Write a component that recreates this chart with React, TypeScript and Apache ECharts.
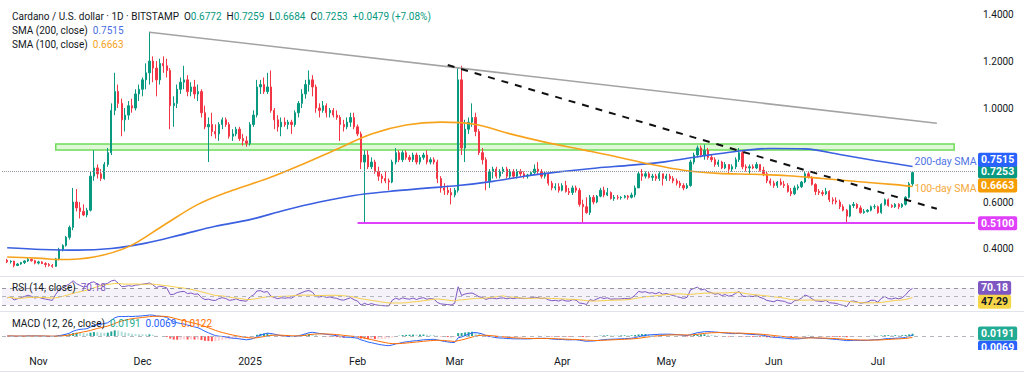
import React, { useEffect, useRef } from "react";
import * as echarts from "echarts";

// ---------- data ----------
const START_DATE = "2024-10-23";
const AXIS_END_DATE = "2025-07-29";

type OHLC = [number, number, number, number]; // open, high, low, close

const oct2024: OHLC[] = [
  [0.352, 0.358, 0.34, 0.345], [0.345, 0.352, 0.338, 0.348], [0.348, 0.35, 0.322, 0.33],
  [0.33, 0.34, 0.327, 0.336], [0.336, 0.345, 0.333, 0.342], [0.342, 0.352, 0.336, 0.349],
  [0.349, 0.362, 0.345, 0.356], [0.356, 0.36, 0.346, 0.35], [0.35, 0.354, 0.335, 0.34],
];
const nov2024: OHLC[] = [
  [0.34, 0.35, 0.334, 0.345], [0.345, 0.348, 0.336, 0.338], [0.338, 0.344, 0.322, 0.334],
  [0.334, 0.34, 0.325, 0.33], [0.33, 0.336, 0.32, 0.326], [0.326, 0.362, 0.324, 0.358],
  [0.358, 0.405, 0.352, 0.398], [0.398, 0.42, 0.39, 0.415], [0.415, 0.455, 0.41, 0.45],
  [0.45, 0.5, 0.44, 0.492], [0.492, 0.66, 0.48, 0.6], [0.6, 0.655, 0.56, 0.575],
  [0.575, 0.6, 0.53, 0.56], [0.56, 0.59, 0.54, 0.545], [0.545, 0.575, 0.535, 0.565],
  [0.565, 0.73, 0.56, 0.71], [0.71, 0.82, 0.69, 0.745], [0.745, 0.76, 0.7, 0.72],
  [0.72, 0.74, 0.69, 0.7], [0.7, 0.77, 0.695, 0.76], [0.76, 0.83, 0.75, 0.81],
  [0.81, 1.02, 0.8, 0.99], [0.99, 1.15, 0.97, 1.07], [1.07, 1.1, 1.0, 1.02],
  [1.02, 1.04, 0.88, 0.95], [0.95, 1.0, 0.9, 0.97], [0.97, 1.03, 0.95, 1.01],
  [1.01, 1.04, 0.98, 1.0], [1.0, 1.08, 0.99, 1.06], [1.06, 1.1, 1.03, 1.08],
];
const dec2024: OHLC[] = [
  [1.08, 1.13, 1.05, 1.12], [1.12, 1.19, 1.08, 1.15], [1.15, 1.325, 1.1, 1.2],
  [1.2, 1.22, 1.11, 1.17], [1.17, 1.2, 1.05, 1.12], [1.12, 1.21, 1.1, 1.19],
  [1.19, 1.22, 1.15, 1.18], [1.18, 1.21, 1.13, 1.16], [1.16, 1.17, 0.91, 1.01],
  [1.01, 1.05, 0.92, 1.02], [1.02, 1.1, 1.0, 1.08], [1.08, 1.13, 1.06, 1.11],
  [1.11, 1.18, 1.08, 1.12], [1.12, 1.14, 1.05, 1.07], [1.07, 1.11, 1.05, 1.09],
  [1.09, 1.12, 1.04, 1.06], [1.06, 1.1, 1.03, 1.07], [1.07, 1.08, 0.96, 0.98],
  [0.98, 1.01, 0.91, 0.92], [0.92, 0.96, 0.77, 0.93], [0.93, 0.98, 0.88, 0.9],
  [0.9, 0.93, 0.87, 0.89], [0.89, 0.94, 0.86, 0.93], [0.93, 0.96, 0.91, 0.95],
  [0.95, 0.96, 0.92, 0.93], [0.93, 0.94, 0.87, 0.88], [0.88, 0.91, 0.86, 0.89],
  [0.89, 0.92, 0.88, 0.91], [0.91, 0.92, 0.86, 0.87], [0.87, 0.89, 0.84, 0.86],
  [0.86, 0.88, 0.835, 0.85],
];
const jan2025: OHLC[] = [
  [0.85, 0.94, 0.84, 0.93], [0.93, 0.99, 0.92, 0.97], [0.97, 1.12, 0.96, 1.09],
  [1.09, 1.12, 1.06, 1.1], [1.1, 1.13, 1.06, 1.07], [1.07, 1.15, 1.06, 1.09],
  [1.09, 1.16, 0.98, 0.99], [0.99, 1.0, 0.91, 0.95], [0.95, 0.97, 0.9, 0.92],
  [0.92, 0.96, 0.88, 0.94], [0.94, 0.96, 0.92, 0.93], [0.93, 0.95, 0.91, 0.94],
  [0.94, 0.95, 0.89, 0.93], [0.93, 0.99, 0.92, 0.98], [0.98, 1.03, 0.96, 1.02],
  [1.02, 1.08, 1.0, 1.06], [1.06, 1.12, 1.04, 1.1], [1.1, 1.16, 1.07, 1.12],
  [1.12, 1.14, 1.05, 1.09], [1.09, 1.1, 0.98, 1.0], [1.0, 1.02, 0.96, 0.99],
  [0.99, 1.03, 0.98, 1.01], [1.01, 1.02, 0.96, 0.98], [0.98, 1.0, 0.96, 0.99],
  [0.99, 1.0, 0.96, 0.97], [0.97, 0.99, 0.95, 0.96], [0.96, 0.97, 0.86, 0.93],
  [0.93, 0.95, 0.9, 0.92], [0.92, 0.96, 0.91, 0.94], [0.94, 0.98, 0.92, 0.96],
  [0.96, 0.98, 0.91, 0.92],
];
const feb2025: OHLC[] = [
  [0.92, 0.93, 0.88, 0.89], [0.89, 0.9, 0.74, 0.77], [0.77, 0.82, 0.51, 0.8],
  [0.8, 0.82, 0.74, 0.75], [0.75, 0.79, 0.74, 0.77], [0.77, 0.78, 0.72, 0.73],
  [0.73, 0.75, 0.69, 0.71], [0.71, 0.72, 0.68, 0.7], [0.7, 0.73, 0.68, 0.69],
  [0.69, 0.7, 0.65, 0.685], [0.685, 0.78, 0.68, 0.77], [0.77, 0.83, 0.76, 0.81],
  [0.81, 0.82, 0.77, 0.78], [0.78, 0.82, 0.77, 0.81], [0.81, 0.82, 0.78, 0.79],
  [0.79, 0.8, 0.77, 0.78], [0.78, 0.81, 0.77, 0.8], [0.8, 0.81, 0.76, 0.77],
  [0.77, 0.8, 0.76, 0.79], [0.79, 0.81, 0.78, 0.8], [0.8, 0.82, 0.76, 0.77],
  [0.77, 0.79, 0.76, 0.78], [0.78, 0.79, 0.76, 0.77], [0.77, 0.78, 0.68, 0.7],
  [0.7, 0.71, 0.64, 0.66], [0.66, 0.68, 0.63, 0.65], [0.65, 0.67, 0.63, 0.64],
  [0.64, 0.66, 0.59, 0.63],
];
const mar2025: OHLC[] = [
  [0.63, 0.66, 0.62, 0.65], [0.65, 1.17, 0.64, 1.12], [1.12, 1.18, 0.8, 0.83],
  [0.83, 0.95, 0.77, 0.91], [0.91, 0.96, 0.89, 0.94], [0.94, 1.02, 0.92, 0.96],
  [0.96, 0.98, 0.88, 0.9], [0.9, 0.91, 0.8, 0.81], [0.81, 0.83, 0.76, 0.78],
  [0.78, 0.79, 0.65, 0.69], [0.69, 0.74, 0.66, 0.73], [0.73, 0.75, 0.7, 0.74],
  [0.74, 0.75, 0.7, 0.71], [0.71, 0.74, 0.7, 0.73], [0.73, 0.75, 0.72, 0.74],
  [0.74, 0.75, 0.7, 0.71], [0.71, 0.74, 0.7, 0.73], [0.73, 0.74, 0.7, 0.71],
  [0.71, 0.74, 0.7, 0.73], [0.73, 0.74, 0.71, 0.72], [0.72, 0.73, 0.7, 0.71],
  [0.71, 0.72, 0.7, 0.715], [0.715, 0.73, 0.71, 0.725], [0.725, 0.76, 0.72, 0.74],
  [0.74, 0.77, 0.72, 0.73], [0.73, 0.74, 0.7, 0.71], [0.71, 0.73, 0.7, 0.72],
  [0.72, 0.72, 0.67, 0.68], [0.68, 0.69, 0.65, 0.66], [0.66, 0.68, 0.65, 0.665],
  [0.665, 0.68, 0.64, 0.65],
];
const apr2025: OHLC[] = [
  [0.65, 0.68, 0.645, 0.67], [0.67, 0.69, 0.64, 0.645], [0.645, 0.66, 0.63, 0.64],
  [0.64, 0.67, 0.63, 0.66], [0.66, 0.67, 0.64, 0.65], [0.65, 0.66, 0.58, 0.59],
  [0.59, 0.61, 0.51, 0.58], [0.58, 0.62, 0.55, 0.555], [0.555, 0.63, 0.545, 0.62],
  [0.62, 0.63, 0.59, 0.6], [0.6, 0.63, 0.595, 0.625], [0.625, 0.66, 0.62, 0.65],
  [0.65, 0.665, 0.62, 0.63], [0.63, 0.66, 0.625, 0.64], [0.64, 0.645, 0.61, 0.615],
  [0.615, 0.63, 0.605, 0.62], [0.62, 0.63, 0.61, 0.618], [0.618, 0.625, 0.61, 0.62],
  [0.62, 0.63, 0.615, 0.625], [0.625, 0.63, 0.61, 0.62], [0.62, 0.64, 0.615, 0.63],
  [0.63, 0.67, 0.62, 0.66], [0.66, 0.73, 0.66, 0.72], [0.72, 0.74, 0.69, 0.71],
  [0.71, 0.73, 0.7, 0.72], [0.72, 0.73, 0.7, 0.705], [0.705, 0.72, 0.69, 0.71],
  [0.71, 0.72, 0.69, 0.7], [0.7, 0.73, 0.69, 0.72], [0.72, 0.72, 0.67, 0.7],
];
const may2025: OHLC[] = [
  [0.7, 0.72, 0.69, 0.71], [0.71, 0.72, 0.69, 0.7], [0.7, 0.71, 0.68, 0.69],
  [0.69, 0.7, 0.67, 0.68], [0.68, 0.69, 0.66, 0.67], [0.67, 0.68, 0.65, 0.66],
  [0.66, 0.68, 0.655, 0.67], [0.67, 0.78, 0.665, 0.77], [0.77, 0.81, 0.76, 0.8],
  [0.8, 0.84, 0.79, 0.83], [0.83, 0.84, 0.79, 0.8], [0.8, 0.845, 0.78, 0.82],
  [0.82, 0.83, 0.78, 0.79], [0.79, 0.8, 0.77, 0.78], [0.78, 0.79, 0.75, 0.76],
  [0.76, 0.78, 0.75, 0.77], [0.77, 0.775, 0.74, 0.745], [0.745, 0.77, 0.74, 0.76],
  [0.76, 0.76, 0.72, 0.74], [0.74, 0.76, 0.73, 0.75], [0.75, 0.79, 0.74, 0.78],
  [0.78, 0.83, 0.77, 0.81], [0.81, 0.82, 0.74, 0.75], [0.75, 0.76, 0.73, 0.745],
  [0.745, 0.76, 0.72, 0.75], [0.75, 0.76, 0.74, 0.745], [0.745, 0.77, 0.74, 0.76],
  [0.76, 0.76, 0.73, 0.735], [0.735, 0.75, 0.71, 0.72], [0.72, 0.73, 0.68, 0.69],
  [0.69, 0.7, 0.67, 0.68],
];
const jun2025: OHLC[] = [
  [0.68, 0.69, 0.66, 0.67], [0.67, 0.69, 0.66, 0.685], [0.685, 0.7, 0.67, 0.675],
  [0.675, 0.69, 0.66, 0.67], [0.67, 0.68, 0.64, 0.645], [0.645, 0.66, 0.625, 0.635],
  [0.635, 0.67, 0.63, 0.66], [0.66, 0.675, 0.65, 0.665], [0.665, 0.69, 0.66, 0.685],
  [0.685, 0.73, 0.68, 0.72], [0.72, 0.73, 0.7, 0.705], [0.705, 0.71, 0.67, 0.675],
  [0.675, 0.68, 0.63, 0.645], [0.645, 0.655, 0.63, 0.64], [0.64, 0.65, 0.625, 0.635],
  [0.635, 0.66, 0.63, 0.645], [0.645, 0.65, 0.6, 0.61], [0.61, 0.62, 0.59, 0.605],
  [0.605, 0.62, 0.59, 0.6], [0.6, 0.61, 0.57, 0.58], [0.58, 0.59, 0.56, 0.565],
  [0.565, 0.57, 0.51, 0.54], [0.54, 0.59, 0.535, 0.585], [0.585, 0.6, 0.575, 0.59],
  [0.59, 0.595, 0.57, 0.575], [0.575, 0.585, 0.55, 0.555], [0.555, 0.57, 0.55, 0.56],
  [0.56, 0.57, 0.555, 0.565], [0.565, 0.585, 0.56, 0.58], [0.58, 0.59, 0.57, 0.58],
];
const jul2025: OHLC[] = [
  [0.58, 0.585, 0.55, 0.555], [0.555, 0.595, 0.55, 0.59], [0.59, 0.615, 0.585, 0.61],
  [0.61, 0.615, 0.58, 0.585], [0.585, 0.59, 0.575, 0.58], [0.58, 0.595, 0.575, 0.59],
  [0.59, 0.595, 0.57, 0.58], [0.58, 0.595, 0.575, 0.59], [0.59, 0.625, 0.585, 0.62],
  [0.62, 0.685, 0.615, 0.6774], [0.6772, 0.7259, 0.6684, 0.7253],
];

const sma200Samples: [string, number][] = [
  ["2024-10-23", 0.405], ["2024-11-02", 0.398], ["2024-11-12", 0.395], ["2024-11-22", 0.402],
  ["2024-12-02", 0.425], ["2024-12-12", 0.46], ["2024-12-22", 0.497], ["2025-01-01", 0.525],
  ["2025-01-11", 0.565], ["2025-01-21", 0.6], ["2025-01-31", 0.628], ["2025-02-10", 0.645],
  ["2025-02-20", 0.658], ["2025-03-02", 0.67], ["2025-03-12", 0.688], ["2025-03-22", 0.712],
  ["2025-04-01", 0.73], ["2025-04-11", 0.745], ["2025-04-21", 0.757], ["2025-05-01", 0.772],
  ["2025-05-11", 0.795], ["2025-05-21", 0.815], ["2025-05-31", 0.828], ["2025-06-10", 0.826],
  ["2025-06-20", 0.802], ["2025-06-30", 0.777], ["2025-07-11", 0.7515],
];
const sma100Samples: [string, number][] = [
  ["2024-10-23", 0.366], ["2024-11-02", 0.36], ["2024-11-07", 0.355], ["2024-11-17", 0.366],
  ["2024-11-27", 0.41], ["2024-12-07", 0.5], ["2024-12-17", 0.59], ["2024-12-27", 0.65],
  ["2025-01-06", 0.7], ["2025-01-16", 0.76], ["2025-01-26", 0.825], ["2025-02-05", 0.89],
  ["2025-02-15", 0.928], ["2025-02-25", 0.94], ["2025-03-07", 0.93], ["2025-03-17", 0.89],
  ["2025-03-27", 0.855], ["2025-04-06", 0.825], ["2025-04-16", 0.795], ["2025-04-26", 0.762],
  ["2025-05-06", 0.735], ["2025-05-16", 0.722], ["2025-05-26", 0.718], ["2025-06-05", 0.712],
  ["2025-06-15", 0.7], ["2025-06-25", 0.687], ["2025-07-05", 0.675], ["2025-07-11", 0.6663],
];

const monthTicks: [string, string][] = [
  ["2024-11-01", "Nov"], ["2024-12-01", "Dec"], ["2025-01-01", "2025"], ["2025-02-01", "Feb"],
  ["2025-03-01", "Mar"], ["2025-04-01", "Apr"], ["2025-05-01", "May"], ["2025-06-01", "Jun"],
  ["2025-07-01", "Jul"],
];

const greyTrendline: [string, number][] = [["2024-12-03", 1.323], ["2025-07-18", 0.935]];
const dashedTrendline: [string, number][] = [["2025-02-27", 1.183], ["2025-07-18", 0.571]];
const greenZone = { from: "2024-11-06", to: "2025-07-23", top: 0.847, bottom: 0.821 };
const supportLine = { from: "2025-02-01", value: 0.51 };

const legendOHLC = { o: "0.6772", h: "0.7259", l: "0.6684", c: "0.7253", chg: "+0.0479 (+7.08%)" };
const lastClose = 0.7253;
const lastSma200 = 0.7515;
const lastSma100 = 0.6663;
const rsiLast = 70.18;
const rsiMaLast = 47.29;
const macdHistLast = 0.0191;
const macdLast = 0.0069;
const signalLast = 0.0122;
const hiddenPriceTicks = [0.8];
const RSI_SEED = { gain: 0.0045, loss: 0.005 };

// ---------- styling ----------
const FONT = "Roboto, 'Noto Sans', Arial, sans-serif";
const UP = "#089981";
const DOWN = "#f23645";
const TEXT = "#131722";
const BLUE = "#2962ff";
const ORANGE = "#f7a21b";
const PURPLE = "#7e57c2";
const MAGENTA = "#e040fb";
const HIDDEN_LINE = { color: "rgba(0,0,0,0)", width: 1, type: "solid" };

// ---------- helpers ----------
const parseDay = (d: string) => {
  const [y, m, dd] = d.split("-").map(Number);
  return Date.UTC(y, m - 1, dd);
};
const T0 = parseDay(START_DATE);
const dayIndex = (d: string) => Math.round((parseDay(d) - T0) / 86400000);

const candles: OHLC[] = ([] as OHLC[]).concat(
  oct2024, nov2024, dec2024, jan2025, feb2025, mar2025, apr2025, may2025, jun2025, jul2025
);
const closes = candles.map((c) => c[3]);
const candleData = candles.map((c, i) => [i, c[0], c[3], c[2], c[1]]);
const sma200Data = sma200Samples.map(([d, v]) => [dayIndex(d), v]);
const sma100Data = sma100Samples.map(([d, v]) => [dayIndex(d), v]);

// RSI (14, Wilder)
const rsi: number[] = [];
{
  let ag = RSI_SEED.gain;
  let al = RSI_SEED.loss;
  for (let i = 0; i < closes.length; i++) {
    if (i > 0) {
      const ch = closes[i] - closes[i - 1];
      ag = (ag * 13 + Math.max(ch, 0)) / 14;
      al = (al * 13 + Math.max(-ch, 0)) / 14;
    }
    rsi.push(al === 0 ? 100 : 100 - 100 / (1 + ag / al));
  }
}
const rsiMa = rsi.map((_, i) => {
  const s = Math.max(0, i - 13);
  const part = rsi.slice(s, i + 1);
  return part.reduce((a, b) => a + b, 0) / part.length;
});

// MACD (12, 26, 9)
const macd: number[] = [];
const signal: number[] = [];
{
  let e12 = closes[0];
  let e26 = closes[0];
  let sig = 0;
  for (let i = 0; i < closes.length; i++) {
    if (i > 0) {
      e12 = closes[i] * (2 / 13) + e12 * (1 - 2 / 13);
      e26 = closes[i] * (2 / 27) + e26 * (1 - 2 / 27);
    }
    const m = e12 - e26;
    sig = i === 0 ? m : m * 0.2 + sig * 0.8;
    macd.push(m);
    signal.push(sig);
  }
}
const hist = macd.map((m, i) => m - signal[i]);
const histData = hist.map((h, i) => {
  const prev = i > 0 ? hist[i - 1] : 0;
  const color = h >= 0 ? (h >= prev ? "#26a69a" : "#b2dfdb") : h < prev ? "#ff5252" : "#ffcdd2";
  return { value: [i, h], itemStyle: { color } };
});
// MACD pane scale: the peak of the MACD line sits 3px under the pane top, zero line 24px under it
const macdPeak = Math.max(...macd);
const MACD_MAX = (macdPeak * 24) / 21;
const MACD_MIN = -(macdPeak * 13) / 21;

const X_MIN = -1.5;
const X_MAX = dayIndex(AXIS_END_DATE);
const tickLabelMap: Record<number, string> = {};
monthTicks.forEach(([d, l]) => (tickLabelMap[dayIndex(d)] = l));

const box = (bg: string, fg = "#ffffff", offsetY = 0) => ({
  show: true,
  position: "end",
  distance: 3,
  color: fg,
  backgroundColor: bg,
  padding: [2, 3, 1, 3],
  fontSize: 10.5,
  fontWeight: "bold",
  fontFamily: FONT,
  borderRadius: 2,
  offset: [0, offsetY],
});

const PLOT_LEFT = 2;
const PLOT_RIGHT = 49;

function buildOption(): any {
  const xBase = (gridIndex: number) => ({
    type: "value",
    gridIndex,
    min: X_MIN,
    max: X_MAX,
    axisLine: { show: false },
    axisTick: { show: false },
    splitLine: { show: false },
    axisLabel: { show: false },
  });
  const txt = (s: any) => ({ fontFamily: FONT, fontSize: 10, fill: TEXT, ...s });
  return {
    animation: false,
    backgroundColor: "#ffffff",
    textStyle: { fontFamily: FONT },
    grid: [
      { left: PLOT_LEFT, right: PLOT_RIGHT, top: 0, height: 276 },
      { left: PLOT_LEFT, right: PLOT_RIGHT, top: 277, height: 34 },
      { left: PLOT_LEFT, right: PLOT_RIGHT, top: 312, height: 37 },
    ],
    xAxis: [
      xBase(0),
      xBase(1),
      {
        ...xBase(2),
        axisLabel: {
          show: true,
          customValues: Object.keys(tickLabelMap).map(Number),
          formatter: (v: number) => tickLabelMap[Math.round(v)] ?? "",
          color: TEXT,
          fontSize: 10.5,
          fontFamily: FONT,
          margin: 7,
        },
      },
    ],
    yAxis: [
      {
        type: "value",
        gridIndex: 0,
        position: "right",
        min: 0.285,
        max: 1.46,
        splitNumber: 6,
        axisLine: { show: false },
        axisTick: { show: false },
        splitLine: { show: false },
        axisLabel: {
          color: TEXT,
          fontSize: 10,
          fontFamily: FONT,
          margin: 8,
          showMinLabel: false,
          showMaxLabel: false,
          formatter: (v: number) =>
            hiddenPriceTicks.some((h) => Math.abs(h - v) < 1e-6) ? "" : v.toFixed(4),
        },
      },
      {
        type: "value", gridIndex: 1, position: "right", min: 16, max: 96,
        axisLine: { show: false }, axisTick: { show: false }, splitLine: { show: false },
        axisLabel: { show: false },
      },
      {
        type: "value", gridIndex: 2, position: "right", min: MACD_MIN, max: MACD_MAX,
        axisLine: { show: false }, axisTick: { show: false }, splitLine: { show: false },
        axisLabel: { show: false },
      },
    ],
    series: [
      {
        type: "candlestick",
        name: "ADA/USD",
        xAxisIndex: 0,
        yAxisIndex: 0,
        data: candleData,
        barWidth: 1.8,
        itemStyle: { color: UP, color0: DOWN, borderColor: UP, borderColor0: DOWN, borderWidth: 1 },
        markArea: {
          silent: true,
          data: [
            [
              {
                coord: [dayIndex(greenZone.from), greenZone.top],
                itemStyle: { color: "rgba(140, 230, 110, 0.28)", borderColor: "#6fdc5a", borderWidth: 1.5 },
              },
              { coord: [dayIndex(greenZone.to), greenZone.bottom] },
            ],
          ],
        },
        markLine: {
          silent: true,
          symbol: ["none", "none"],
          data: [
            {
              yAxis: lastClose,
              lineStyle: { color: "#9598a1", type: "dotted", width: 1 },
              label: { ...box(UP), formatter: lastClose.toFixed(4) },
            },
            [
              {
                coord: [dayIndex(greyTrendline[0][0]), greyTrendline[0][1]],
                lineStyle: { color: "#a3a3a3", width: 1.6, type: "solid" },
                label: { show: false },
              },
              { coord: [dayIndex(greyTrendline[1][0]), greyTrendline[1][1]] },
            ],
            [
              {
                coord: [dayIndex(dashedTrendline[0][0]), dashedTrendline[0][1]],
                lineStyle: { color: "#111111", width: 2, type: [7, 7] },
                label: { show: false },
              },
              { coord: [dayIndex(dashedTrendline[1][0]), dashedTrendline[1][1]] },
            ],
            [
              {
                coord: [dayIndex(supportLine.from), supportLine.value],
                lineStyle: { color: MAGENTA, width: 2, type: "solid" },
                label: { ...box(MAGENTA), formatter: supportLine.value.toFixed(4) },
              },
              { coord: [X_MAX, supportLine.value] },
            ],
          ],
        },
        z: 3,
      },
      {
        type: "line",
        name: "SMA 200",
        xAxisIndex: 0,
        yAxisIndex: 0,
        data: sma200Data,
        smooth: 0.35,
        showSymbol: false,
        lineStyle: { color: "#3a5fe0", width: 1.6 },
        endLabel: {
          show: true, formatter: "200-day SMA", color: "#4f74e6", fontSize: 10.5,
          fontFamily: FONT, distance: 2, offset: [0, -5],
        },
        markLine: {
          silent: true,
          symbol: ["none", "none"],
          data: [
            { yAxis: lastSma200, lineStyle: HIDDEN_LINE, label: { ...box(BLUE, "#fff", -7), formatter: lastSma200.toFixed(4) } },
          ],
        },
        z: 4,
      },
      {
        type: "line",
        name: "SMA 100",
        xAxisIndex: 0,
        yAxisIndex: 0,
        data: sma100Data,
        smooth: 0.35,
        showSymbol: false,
        lineStyle: { color: ORANGE, width: 1.6 },
        endLabel: {
          show: true, formatter: "100-day SMA", color: "#f5a83a", fontSize: 10.5,
          fontFamily: FONT, distance: 2, offset: [0, 2],
        },
        markLine: {
          silent: true,
          symbol: ["none", "none"],
          data: [
            { yAxis: lastSma100, lineStyle: HIDDEN_LINE, label: { ...box("#f59c00"), formatter: lastSma100.toFixed(4) } },
          ],
        },
        z: 4,
      },
      {
        type: "line",
        name: "RSI",
        xAxisIndex: 1,
        yAxisIndex: 1,
        data: rsi.map((v, i) => [i, v]),
        showSymbol: false,
        lineStyle: { color: PURPLE, width: 1 },
        markArea: {
          silent: true,
          data: [[{ yAxis: 70, itemStyle: { color: "rgba(126, 87, 194, 0.08)" } }, { yAxis: 30 }]],
        },
        markLine: {
          silent: true,
          symbol: ["none", "none"],
          data: [
            { yAxis: 70, lineStyle: { color: "#9598a1", type: [4, 4], width: 1 }, label: { show: false } },
            { yAxis: 50, lineStyle: { color: "#b2b5be", type: [4, 4], width: 1 }, label: { show: false } },
            { yAxis: 30, lineStyle: { color: "#9598a1", type: [4, 4], width: 1 }, label: { show: false } },
            { yAxis: rsiLast, lineStyle: HIDDEN_LINE, label: { ...box(PURPLE), formatter: rsiLast.toFixed(2) } },
          ],
        },
      },
      {
        type: "line",
        name: "RSI MA",
        xAxisIndex: 1,
        yAxisIndex: 1,
        data: rsiMa.map((v, i) => [i, v]),
        showSymbol: false,
        lineStyle: { color: "#f5cf4a", width: 1 },
        markLine: {
          silent: true,
          symbol: ["none", "none"],
          data: [
            { yAxis: rsiMaLast, lineStyle: HIDDEN_LINE, label: { ...box("#f7d548", TEXT, 4), formatter: rsiMaLast.toFixed(2) } },
          ],
        },
      },
      {
        type: "bar",
        name: "Histogram",
        xAxisIndex: 2,
        yAxisIndex: 2,
        data: histData,
        barWidth: 2,
        markLine: {
          silent: true,
          symbol: ["none", "none"],
          data: [
            { yAxis: 0, lineStyle: { color: "#b2b5be", type: [4, 4], width: 1 }, label: { show: false } },
            { yAxis: macdHistLast, lineStyle: HIDDEN_LINE, label: { ...box("#22ab94"), formatter: macdHistLast.toFixed(4) } },
          ],
        },
      },
      {
        type: "line",
        name: "MACD",
        xAxisIndex: 2,
        yAxisIndex: 2,
        data: macd.map((v, i) => [i, v]),
        showSymbol: false,
        lineStyle: { color: BLUE, width: 1 },
        markLine: {
          silent: true,
          symbol: ["none", "none"],
          data: [
            { yAxis: macdLast, lineStyle: HIDDEN_LINE, label: { ...box(BLUE, "#fff", 13), formatter: macdLast.toFixed(4) } },
          ],
        },
      },
      {
        type: "line",
        name: "Signal",
        xAxisIndex: 2,
        yAxisIndex: 2,
        data: signal.map((v, i) => [i, v]),
        showSymbol: false,
        lineStyle: { color: "#ff6d00", width: 1 },
      },
    ],
    graphic: [
      {
        type: "text",
        x: 12,
        y: 16,
        style: txt({
          verticalAlign: "middle",
          text:
            `Cardano / U.S. dollar · 1D · BITSTAMP  O{g|${legendOHLC.o}}  H{g|${legendOHLC.h}}  L{g|${legendOHLC.l}}  C{g|${legendOHLC.c}}  {g|${legendOHLC.chg}}`,
          rich: { g: { fill: UP, fontFamily: FONT, fontSize: 10 } },
        }),
        z: 50,
      },
      {
        type: "text",
        x: 12,
        y: 30,
        style: txt({
          verticalAlign: "middle",
          text: `SMA (200, close)  {b|${lastSma200.toFixed(4)}}`,
          rich: { b: { fill: "#4a6fe3", fontFamily: FONT, fontSize: 10 } },
        }),
        z: 50,
      },
      {
        type: "text",
        x: 12,
        y: 44,
        style: txt({
          verticalAlign: "middle",
          text: `SMA (100, close)  {o|${lastSma100.toFixed(4)}}`,
          rich: { o: { fill: ORANGE, fontFamily: FONT, fontSize: 10 } },
        }),
        z: 50,
      },
      {
        type: "text",
        x: 12,
        y: 287,
        style: txt({
          verticalAlign: "middle",
          text: `RSI (14, close)  {p|${rsiLast.toFixed(2)}}`,
          rich: { p: { fill: PURPLE, fontFamily: FONT, fontSize: 10 } },
        }),
        z: 50,
      },
      {
        type: "text",
        x: 12,
        y: 323,
        style: txt({
          verticalAlign: "middle",
          text: `MACD (12, 26, close)  {g|${macdHistLast.toFixed(4)}}  {b|${macdLast.toFixed(4)}}  {o|${signalLast.toFixed(4)}}`,
          rich: {
            g: { fill: "#22ab94", fontFamily: FONT, fontSize: 10 },
            b: { fill: BLUE, fontFamily: FONT, fontSize: 10 },
            o: { fill: "#ff6d00", fontFamily: FONT, fontSize: 10 },
          },
        }),
        z: 50,
      },
      { type: "rect", shape: { x: 976, y: 350, width: 48, height: 26 }, style: { fill: "#ffffff" }, z: 60 },
      { type: "line", shape: { x1: 0, y1: 276.5, x2: 1024, y2: 276.5 }, style: { stroke: "#e0e3eb", lineWidth: 1 }, z: 61 },
      { type: "line", shape: { x1: 0, y1: 311.5, x2: 1024, y2: 311.5 }, style: { stroke: "#e0e3eb", lineWidth: 1 }, z: 61 },
      { type: "line", shape: { x1: 0, y1: 371.5, x2: 1024, y2: 371.5 }, style: { stroke: "#e0e3eb", lineWidth: 1 }, z: 61 },
    ],
  };
}

export default function App() {
  const ref = useRef<HTMLDivElement>(null);
  useEffect(() => {
    if (!ref.current) return;
    const chart = echarts.init(ref.current, null, { renderer: "svg" });
    chart.setOption(buildOption());
    return () => chart.dispose();
  }, []);
  return (
    <div
      ref={ref}
      style={{ position: "fixed", left: 0, top: 0, width: 1024, height: 376, background: "#ffffff" }}
    />
  );
}
